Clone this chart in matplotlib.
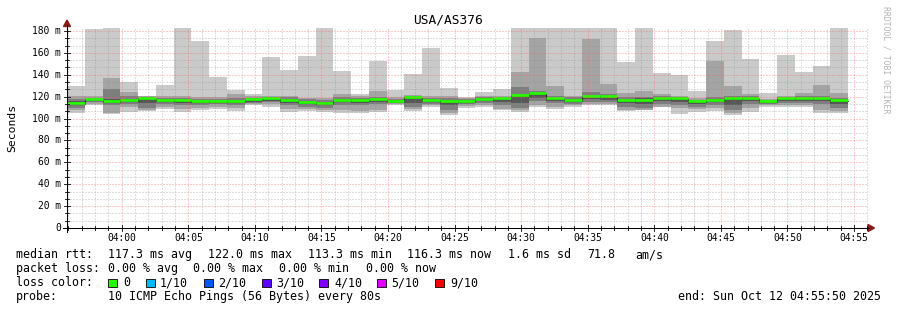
import matplotlib
matplotlib.use('Agg')
import matplotlib.pyplot as plt
from matplotlib.patches import Rectangle, Polygon
from matplotlib.lines import Line2D

W, H = 897, 310
title = "USA/AS376"
step_seconds = 80
start_minute = -4.11          # graph start, minutes relative to 04:00

# sorted ping values per 80 s step (ms): p1 (min) .. p10 (max), plus median
ping_p1 = [105.5, 112, 104.5, 106, 106.5, 109, 106, 108, 109, 107, 112, 111, 106, 107, 106,
           105.5, 105.5, 106, 112, 107, 110.5, 103.5, 110, 111, 108, 106, 111, 109, 111, 112,
           112, 107, 107.5, 110.5, 104, 106, 107, 103.5, 106, 111, 111, 111, 105.5, 105.5]
ping_p2 = [108, 113.5, 105.5, 111, 107.5, 111, 109, 110, 111, 110, 113, 113, 109, 109, 108,
           108, 107, 108, 113, 109, 112, 105, 111.5, 112, 109, 108, 112, 111, 112, 113.5,
           113.5, 108, 108, 111, 110, 108.5, 109.5, 105, 110, 112, 112, 112.5, 108, 106.5]
ping_p3 = [110, 115, 112, 113, 110, 113, 112, 112, 113, 112, 114, 115, 112, 111, 110,
           112, 112, 113, 114, 111, 113.5, 108, 113, 114, 112, 110, 116, 114, 113.5, 115,
           115, 111, 110, 113, 112, 111, 112, 108, 113, 113, 114, 114, 113, 110]
ping_p4 = [112, 116, 114, 115, 114, 115, 114.5, 114, 114, 114, 115.5, 116.5, 114.5, 113, 112,
           115, 114.5, 115, 115, 114, 115, 112, 114, 116, 115, 114, 119, 116, 115, 117.5,
           117, 114, 113, 116, 115, 113, 115, 112, 116, 114, 116, 116, 116, 113]
median = [113.3, 117.3, 115.4, 116.3, 117.6, 116.1, 115.8, 115.4, 115.1, 115.1, 116.7, 118.2, 116.5, 114.2, 113.5,
          116.3, 116.0, 116.9, 115.4, 118.5, 116.3, 115.4, 115.1, 117.3, 117.9, 120.9, 122.0, 117.6, 116.3, 119.7,
          119.4, 116.3, 116.3, 118.2, 117.9, 115.4, 116.3, 117.9, 117.9, 115.1, 117.6, 117.9, 117.9, 116.3]
ping_p7 = [116, 118, 118, 118, 118.5, 117.5, 117, 116.5, 116, 116.5, 118, 119, 118, 116, 115,
           118, 117.5, 118, 117, 119.5, 117.5, 117, 116.5, 118.5, 118.5, 121.5, 123, 119, 118, 121,
           120.5, 118, 118.5, 119, 119, 116, 118, 119, 119.5, 116, 118.5, 119, 119, 117.5]
ping_p8 = [118, 119, 127, 121, 119.5, 119, 119, 118, 118, 119, 119, 120, 119.5, 117.5, 117,
           120, 119, 120, 118, 120.5, 119, 119, 117.5, 119.5, 119, 128.8, 125, 121, 119.5, 124,
           122, 120, 120, 120.5, 120, 117, 120, 121, 121, 117, 119.5, 121, 121, 119]
ping_p9 = [121, 121, 137, 124, 120.5, 121, 121, 120, 120, 122, 120.5, 121, 121, 119, 119,
           122, 121, 125, 120, 121.5, 120.5, 121, 118.5, 121, 120.5, 142.5, 174, 130, 120.6, 173,
           132, 123.6, 125, 122.4, 121, 118.5, 152.6, 130, 122, 118, 120.5, 123.6, 131, 123]
ping_p10 = [130, 182, 183, 133.4, 121, 131, 183, 171, 138, 126, 122, 156, 144, 157, 183,
            143.5, 122, 152.6, 126, 140.4, 164.5, 128, 120, 124.2, 127.3, 183, 183, 183, 183, 183,
            183, 151.7, 183, 142, 140, 125, 171, 181, 154.7, 123.6, 158.4, 142.5, 148, 183]

x_tick_minutes = [0, 5, 10, 15, 20, 25, 30, 35, 40, 45, 50, 55]
x_tick_labels = ["04:00", "04:05", "04:10", "04:15", "04:20", "04:25",
                 "04:30", "04:35", "04:40", "04:45", "04:50", "04:55"]
y_ticks = [0, 20, 40, 60, 80, 100, 120, 140, 160, 180]
y_tick_labels = ["0", "20 m", "40 m", "60 m", "80 m", "100 m", "120 m", "140 m", "160 m", "180 m"]

legend_rows = [
    [("median rtt:", 16), ("117.3 ms avg", 108), ("122.0 ms max", 208), ("113.3 ms min", 308),
     ("116.3 ms now", 407), ("1.6 ms sd", 508), ("71.8", 587), ("am/s", 635)],
    [("packet loss:", 16), ("0.00 % avg", 108), ("0.00 % max", 193), ("0.00 % min", 279),
     ("0.00 % now", 366)],
    [("loss color:", 16)],
    [("probe:", 16), ("10 ICMP Echo Pings (56 Bytes) every 80s", 108),
     ("end: Sun Oct 12 04:55:50 2025", 678)],
]
loss_labels = ["0", "1/10", "2/10", "3/10", "4/10", "5/10", "9/10"]
loss_colors = ["#26ff00", "#00b8ff", "#0059ff", "#5e00ff", "#7e00ff", "#dd00ff", "#ff0000"]
loss_square_x = [108, 146, 204, 262, 319, 377, 435]
loss_label_x = [123, 160, 218, 276, 334, 391, 450]

MONO = "DejaVu Sans Mono"
plt.rcParams['font.family'] = MONO

fig = plt.figure(figsize=(W / 100, H / 100), dpi=100)
fig.patch.set_facecolor('white')

def fx(x):
    return x / W

def fy(y):
    return 1 - y / H

px_per_min = 13.315
px_per_ms = 1.0944
ax_left, ax_right, ax_bottom, ax_top = 67, 868, 228, 28
ax = fig.add_axes([fx(ax_left), fy(ax_bottom), (ax_right - ax_left) / W, (ax_bottom - ax_top) / H])
xmax = start_minute + (ax_right - ax_left) / px_per_min
ymax = (ax_bottom - ax_top) / px_per_ms
ax.set_xlim(start_minute, xmax)
ax.set_ylim(0, ymax)
ax.axis('off')

step = step_seconds / 60.0
n = len(median)
starts = [start_minute + i * step for i in range(n)]

# smoke layers (outer light, inner darker)
layers = [(ping_p1, ping_p10, '#cacaca'), (ping_p2, ping_p9, '#a4a4a4'),
          (ping_p3, ping_p8, '#7e7e7e'), (ping_p4, ping_p7, '#585858')]
for lo, hi, col in layers:
    ax.bar(starts, [h - l for l, h in zip(lo, hi)], bottom=lo, width=step, align='edge',
           color=col, linewidth=0, zorder=2)

# median: dark step line then loss-colored segments
xs = starts + [starts[-1] + step]
ax.step(xs, median + [median[-1]], where='post', color='#202020', lw=0.8, zorder=3)
ax.hlines([m + 0.9 for m in median], starts, [s + step for s in starts],
          color=loss_colors[0], lw=2.0, zorder=4)

# grid (drawn over the data, as rrdtool does)
minor_h = [k * 20 / 3 for k in range(1, 28) if k % 3]
major_h = [v for v in y_ticks if v > 0]
minor_v = [m for m in range(-4, 57) if m % 5 and start_minute < m < xmax]
ax.hlines(minor_h, start_minute, xmax, colors='#8a8a8a', lw=0.72, linestyles=(0, (1, 2)), alpha=0.55, zorder=5)
ax.vlines(minor_v, 0, ymax, colors='#8a8a8a', lw=0.72, linestyles=(0, (1, 2)), alpha=0.55, zorder=5)
ax.hlines(major_h, start_minute, xmax, colors='#ff5c5c', lw=0.72, linestyles=(0, (1, 2)), alpha=0.65, zorder=5)
ax.vlines(x_tick_minutes, 0, ymax, colors='#ff5c5c', lw=0.72, linestyles=(0, (1, 2)), alpha=0.65, zorder=5)

# tick labels via axes transforms
for v, lab in zip(y_ticks, y_tick_labels):
    ax.text(-6 / px_per_min + start_minute, v, lab, ha='right', va='center', fontsize=6.9,
            color='#000000', clip_on=False)
for m, lab in zip(x_tick_minutes, x_tick_labels):
    ax.text(m, -10 / px_per_ms, lab, ha='center', va='center', fontsize=6.9, clip_on=False)

# axis lines, ticks and arrows in figure pixels
def fline(x0, y0, x1, y1, color='black', lw=0.75):
    fig.add_artist(Line2D([fx(x0), fx(x1)], [fy(y0), fy(y1)], color=color, lw=lw,
                          transform=fig.transFigure))

fline(67, 232, 67, 25)
fline(63, 228, 869, 228)
for v in minor_h:
    yy = ax_bottom - v * px_per_ms
    fline(65, yy, 69, yy, lw=0.6)
for v in major_h:
    yy = ax_bottom - v * px_per_ms
    fline(64, yy, 70, yy, lw=0.6)
for m in minor_v:
    xx = ax_left + (m - start_minute) * px_per_min
    fline(xx, 226, xx, 230, lw=0.6)
for m in x_tick_minutes:
    xx = ax_left + (m - start_minute) * px_per_min
    fline(xx, 225, xx, 231, lw=0.6)
arrow_col = '#8b1a1a'
fig.add_artist(Polygon([(fx(63.5), fy(26.5)), (fx(70.5), fy(26.5)), (fx(67), fy(20))],
                       closed=True, color=arrow_col, transform=fig.transFigure))
fig.add_artist(Polygon([(fx(868), fy(224.5)), (fx(868), fy(231.5)), (fx(874.5), fy(228))],
                       closed=True, color=arrow_col, transform=fig.transFigure))

# titles
fig.text(fx(448), fy(20), title, ha='center', va='center', fontsize=9.3)
fig.text(fx(12), fy(128), "Seconds", rotation=90, ha='center', va='center', fontsize=8.2)
fig.text(fx(886), fy(60), "RRDTOOL / TOBI OETIKER", rotation=270, ha='center', va='center',
         fontsize=5.9, color='#b4b4b4')

# legend
row_y = [254.5, 268.5, 282.5, 296.5]
for row, yy in zip(legend_rows, row_y):
    for txt, xx in row:
        fig.text(fx(xx), fy(yy), txt, ha='left', va='center', fontsize=8.35)
for sx, lx, col, lab in zip(loss_square_x, loss_label_x, loss_colors, loss_labels):
    fig.add_artist(Rectangle((fx(sx), fy(287)), 8.5 / W, 8.5 / H, facecolor=col,
                             edgecolor='black', lw=0.6, transform=fig.transFigure))
    fig.text(fx(lx), fy(row_y[2]), lab, ha='left', va='center', fontsize=8.35)

fig.savefig('out.png', dpi=100, facecolor='white')
